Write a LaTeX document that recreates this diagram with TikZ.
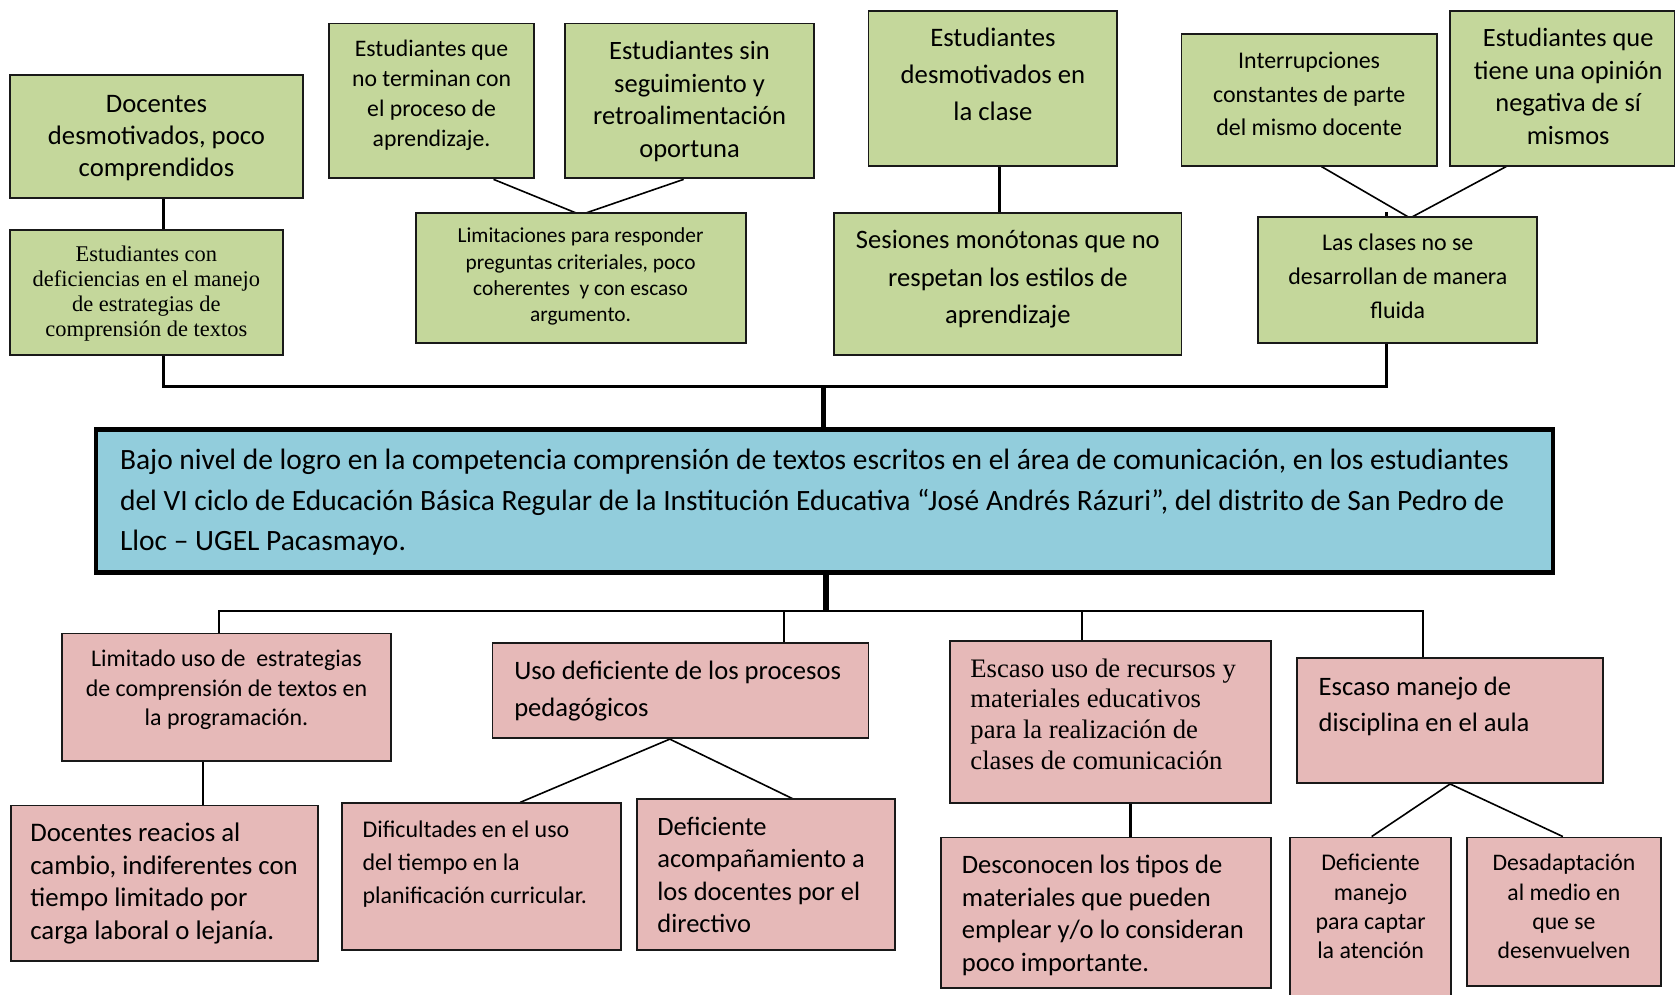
\documentclass[tikz,border=0pt]{standalone}
\usepackage{fontspec}
\setmainfont{Carlito}
\newfontfamily\serifont{Liberation Serif}
\usetikzlibrary{calc,backgrounds,fit}
\definecolor{gfill}{RGB}{196,215,155}
\definecolor{pfill}{RGB}{230,185,184}
\definecolor{bfill}{RGB}{146,205,220}
\newcommand\myfs[2]{\fontsize{#1}{#2}\selectfont}
\begin{document}
\begin{tikzpicture}[x=0.5pt,y=-0.5pt,
  box/.style={draw=black!90, line width=0.9pt, inner sep=0pt},
  gbox/.style={box, fill=gfill},
  pbox/.style={box, fill=pfill},
  mbox/.style={draw=black, line width=2pt, inner sep=0pt, fill=bfill},
  ctxt/.style={inner sep=0pt, anchor=north, align=center},
  ltxt/.style={inner sep=0pt, anchor=north west, align=left},
  thinc/.style={line width=0.75pt},
  conn/.style={line width=1.3pt},
  busl/.style={line width=1.6pt},
  bus2/.style={line width=1pt},
  trunk/.style={line width=2.6pt}]
\useasboundingbox (0,0) rectangle (1568,931);
\clip (0,0) rectangle (1568,931);
% ---- top row boxes
\node[gbox, fit={(9,70)(284,185)}] (a1) {};
\node[gbox, fit={(9,215)(265,332)}] (a2) {};
\node[gbox, fit={(308,22)(500,167)}] (b1) {};
\node[gbox, fit={(529,22)(762,167)}] (b2) {};
\node[gbox, fit={(389,199)(698,321)}] (b3) {};
\node[gbox, fit={(813,10)(1046,155)}] (c1) {};
\node[gbox, fit={(781,199)(1106,332)}] (c2) {};
\node[gbox, fit={(1106,32)(1345,155)}] (d1) {};
\node[gbox, fit={(1357,10)(1568,155)}] (d2) {};
\node[gbox, fit={(1178,203)(1439,321)}] (d3) {};
% ---- main box
\node[mbox, fit={(90,402)(1454,536)}] (main) {};
% ---- bottom boxes
\node[pbox, fit={(58,593)(366,712)}] (e1) {};
\node[pbox, fit={(10,754)(298,900)}] (e2) {};
\node[pbox, fit={(461,602)(813,691)}] (f1) {};
\node[pbox, fit={(320,752)(581,889)}] (f2) {};
\node[pbox, fit={(596,748)(838,889)}] (f3) {};
\node[pbox, fit={(889,600)(1190,752)}] (g1) {};
\node[pbox, fit={(881,784)(1190,925)}] (g2) {};
\node[pbox, fit={(1214,616)(1501,733)}] (h1) {};
\node[pbox, fit={(1208,784)(1358,950)}] (h2) {};
\node[pbox, fit={(1373,784)(1555,923)}] (h3) {};
% ---- texts
\node[ctxt, font=\myfs{12.5}{15}] (a1t) at (146.5,83.5) {\strut Docentes\\desmotivados, poco\\comprendidos};
\node[ctxt, font=\serifont\myfs{10.5}{11.75}] (a2t) at (137,227.9) {\strut Estudiantes con\\deficiencias en el manejo\\de estrategias de\\comprensión de textos};
\node[ctxt, font=\myfs{11.1}{14}] (b1t) at (404,33.1) {\strut Estudiantes que\\no terminan con\\el proceso de\\aprendizaje.};
\node[ctxt, font=\myfs{12.4}{15.25}] (b2t) at (645.5,34.1) {\strut Estudiantes sin\\seguimiento y\\retroalimentación\\oportuna};
\node[ctxt, font=\myfs{10}{12.25}] (b3t) at (543.5,209.9) {\strut Limitaciones para responder\\preguntas criteriales, poco\\coherentes\ \ y con escaso\\argumento.};
\node[ctxt, font=\myfs{12.5}{17.25}] (c1t) at (929.5,19.35) {\strut Estudiantes\\desmotivados en\\la clase};
\node[ctxt, font=\myfs{12.45}{17.5}] (c2t) at (943.5,208) {\strut Sesiones monótonas que no\\respetan los estilos de\\aprendizaje};
\node[ctxt, font=\myfs{11.2}{15.75}] (d1t) at (1225.5,41.65) {\strut Interrupciones\\constantes de parte\\del mismo docente};
\node[ctxt, font=\myfs{12.35}{15.25}] (d2t) at (1468,22.05) {\strut Estudiantes que\\tiene una opinión\\negativa de sí\\mismos};
\node[ctxt, font=\myfs{11.2}{16}] (d3t) at (1308.5,211.3) {\strut Las clases no se\\desarrollan de manera\\fluida};
\node[ltxt, font=\myfs{13.8}{19}] (mt) at (112,412.6) {\strut Bajo nivel de logro en la competencia comprensión de textos escritos en el área de comunicación, en los estudiantes\\del VI ciclo de Educación Básica Regular de la Institución Educativa “José Andrés Rázuri”, del distrito de San Pedro de\\Lloc – UGEL Pacasmayo.};
\node[ctxt, font=\myfs{11.2}{13.75}] (e1t) at (212,604.45) {\strut Limitado uso de\ \ estrategias\\de comprensión de textos en\\la programación.};
\node[ltxt, font=\myfs{12.55}{15.25}] (e2t) at (28,766.15) {\strut Docentes reacios al\\cambio, indiferentes con\\tiempo limitado por\\carga laboral o lejanía.};
\node[ltxt, font=\myfs{12.45}{17.5}] (f1t) at (481,611) {\strut Uso deficiente de los procesos\\pedagógicos};
\node[ltxt, font=\myfs{11.2}{15.5}] (f2t) at (339,762) {\strut Dificultades en el uso\\del tiempo en la\\planificación curricular.};
\node[ltxt, font=\myfs{12.4}{15.25}] (f3t) at (615,760.05) {\strut Deficiente\\acompañamiento a\\los docentes por el\\directivo};
\node[ltxt, font=\serifont\myfs{12.5}{14.35}] (g1t) at (908,613.4) {\strut Escaso uso de recursos y\\materiales educativos\\para la realización de\\clases de comunicación};
\node[ltxt, font=\myfs{12.45}{15.25}] (g2t) at (900,796.15) {\strut Desconocen los tipos de\\materiales que pueden\\emplear y/o lo consideran\\poco importante.};
\node[ltxt, font=\myfs{12.45}{17}] (h1t) at (1234,626.7) {\strut Escaso manejo de\\disciplina en el aula};
\node[ctxt, font=\myfs{11.2}{13.75}] (h2t) at (1283,795.45) {\strut Deficiente\\manejo\\para captar\\la atención};
\node[ctxt, font=\myfs{11.1}{13.75}] (h3t) at (1464,795.45) {\strut Desadaptación\\al medio en\\que se\\desenvuelven};
% ---- connectors
\coordinate (ubus) at (771,362);
\coordinate (lbus) at (773,572);
\begin{pgfonlayer}{background}
\draw[conn] ($(a1.south)+(6.5,0)$) -- ($(a2.north)+(16,0)$);
\draw[thinc] ($(b1.south)+(58,0)$) -- ($(b3.north)+(0,3)$) -- ($(b2.south)+(-5.5,0)$);
\draw[conn] ($(c1.south)+(6.5,0)$) -- ($(c2.north)+(-7.5,0)$);
\draw[thinc] ($(d1.south)+(11.5,0)$) -- ($(d3.north)+(11.5,2)$) -- ($(d2.south)+(-52.5,0)$);
\draw[busl] ($(a2.south)+(16,0)$) |- (ubus) -| ($(d3.north)+(-10.5,-4)$);
\draw[trunk] (ubus) -- (ubus |- main.north);
\draw[trunk] (main.south -| lbus) -- (lbus);
\draw[bus2] ($(e1.north)+(-7,0)$) |- (lbus) -| ($(h1.north)+(-25.5,0)$);
\draw[bus2] ($(f1.north)+(97,0)$) |- (lbus);
\draw[bus2] ($(g1.north)+(-26.5,0)$) |- (lbus);
\draw[conn] ($(e1.south)+(-22,0)$) -- ($(e2.north)+(36,0)$);
\draw[thinc] ($(f2.north)+(36.5,0)$) -- ($(f1.south)+(-10,0)$) -- ($(f3.north)+(30,3)$);
\draw[conn] ($(g1.south)+(18.5,0)$) -- ($(g2.north)+(22.5,0)$);
\draw[thinc] ($(h2.north)+(1,0)$) -- (h1.south) -- ($(h3.north)+(-1,0)$);
\end{pgfonlayer}
\end{tikzpicture}
\end{document}
